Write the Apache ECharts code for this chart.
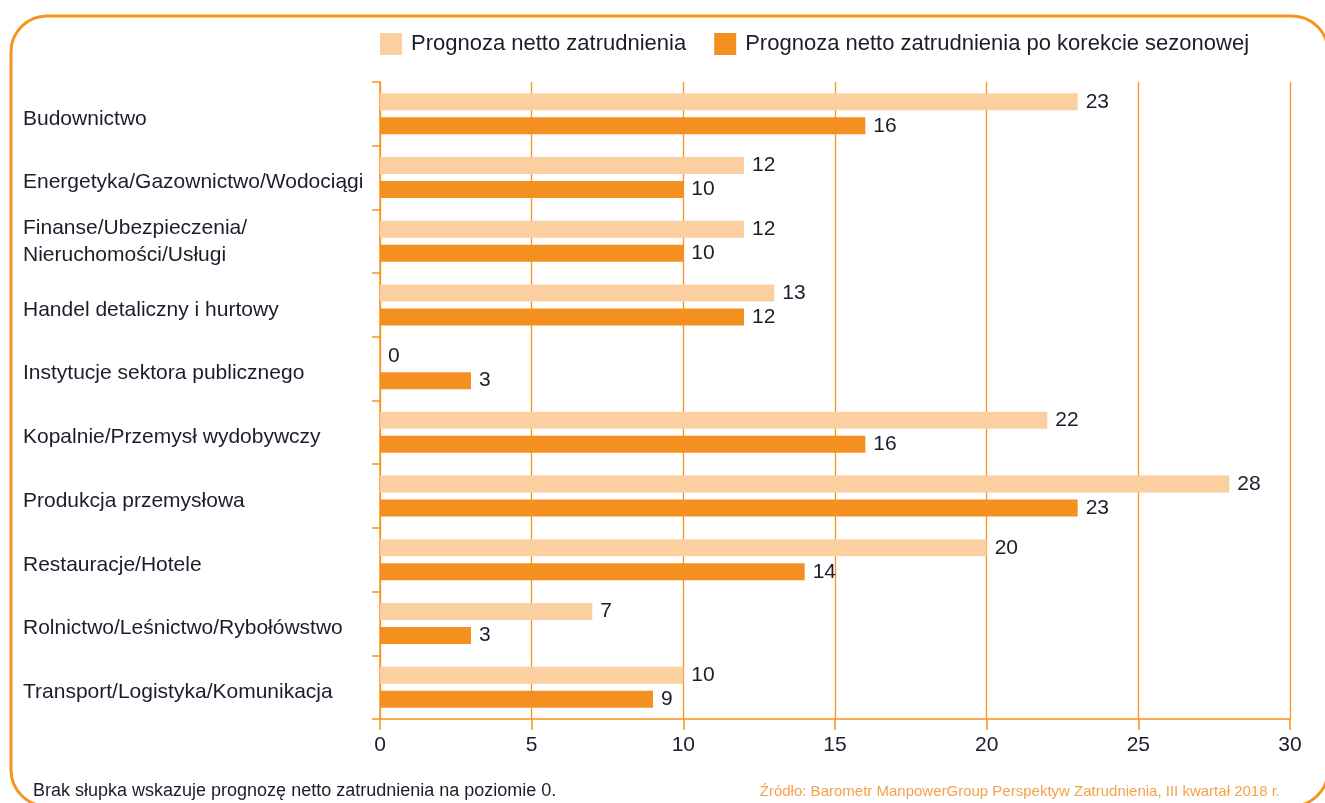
<!DOCTYPE html>
<html>
<head>
<meta charset="utf-8">
<script src="https://cdn.jsdelivr.net/npm/echarts@6/dist/echarts.min.js"></script>
<style>
html,body{margin:0;padding:0;background:#fff;}
#chart{width:1325px;height:803px;}
</style>
</head>
<body>
<div id="chart"></div>
<script>
const categories = [
  'Budownictwo',
  'Energetyka/Gazownictwo/Wodociągi',
  'Finanse/Ubezpieczenia/\nNieruchomości/Usługi',
  'Handel detaliczny i hurtowy',
  'Instytucje sektora publicznego',
  'Kopalnie/Przemysł wydobywczy',
  'Produkcja przemysłowa',
  'Restauracje/Hotele',
  'Rolnictwo/Leśnictwo/Rybołówstwo',
  'Transport/Logistyka/Komunikacja'
];
const netForecast = [23, 12, 12, 13, 0, 22, 28, 20, 7, 10];
const adjustedForecast = [16, 10, 10, 12, 3, 16, 23, 14, 3, 9];
const seriesNames = ['Prognoza netto zatrudnienia', 'Prognoza netto zatrudnienia po korekcie sezonowej'];
const footNote = 'Brak słupka wskazuje prognozę netto zatrudnienia na poziomie 0.';
const sourceNote = 'Źródło: Barometr ManpowerGroup Perspektyw Zatrudnienia, III kwartał 2018 r.';

const ORANGE = '#F7941D';
const LIGHT = '#FBCF9F';
const DARK = '#F39020';
const TEXT = '#1c1c2c';
const FONT = 'Liberation Sans, Arial, sans-serif';
const FS = 21;

const chart = echarts.init(document.getElementById('chart'), null, {renderer: 'canvas'});
const labelCfg = {show: true, position: 'right', distance: 8, fontSize: FS, color: TEXT, fontFamily: FONT};
chart.setOption({
  animation: false,
  textStyle: {fontFamily: FONT},
  grid: {left: 380, right: 35, top: 82, bottom: 84, containLabel: false},
  legend: {
    left: 375, top: 28, itemWidth: 22, itemHeight: 22, itemGap: 28,
    icon: 'rect',
    textStyle: {fontSize: 22, color: TEXT, fontFamily: FONT, padding: [0, 0, 0, 4]},
    data: seriesNames
  },
  xAxis: {
    type: 'value', min: 0, max: 30, interval: 5,
    axisLine: {show: true, lineStyle: {color: ORANGE, width: 1.5}},
    axisTick: {show: true, length: 11, lineStyle: {color: ORANGE, width: 1.5}},
    splitLine: {show: true, lineStyle: {color: ORANGE, width: 1.3}},
    axisLabel: {fontSize: FS, color: TEXT, margin: 16, fontFamily: FONT}
  },
  yAxis: {
    type: 'category', data: categories, inverse: true,
    axisLine: {show: true, lineStyle: {color: ORANGE, width: 1.5}},
    axisTick: {show: true, length: 8, lineStyle: {color: ORANGE, width: 1.5}},
    axisLabel: {
      fontSize: FS, color: TEXT, align: 'left', margin: 357, lineHeight: 27, fontFamily: FONT,
      formatter: v => v.indexOf('\n') >= 0 ? v : '{s|' + v + '}',
      rich: {s: {fontSize: FS, color: TEXT, fontFamily: FONT, padding: [10, 0, 0, 0]}}
    }
  },
  series: [
    {name: seriesNames[0], type: 'bar', data: netForecast, barWidth: 17, barGap: '41%', itemStyle: {color: LIGHT}, label: labelCfg},
    {name: seriesNames[1], type: 'bar', data: adjustedForecast, barWidth: 17, barGap: '41%', itemStyle: {color: DARK}, label: labelCfg}
  ],
  graphic: [
    {type: 'rect', silent: true, shape: {x: 11, y: 16, width: 1317, height: 790, r: 36}, style: {fill: 'none', stroke: ORANGE, lineWidth: 3}},
    {type: 'text', left: 33, top: 782, style: {text: footNote, fontSize: 18, fill: TEXT, fontFamily: FONT}},
    {type: 'text', right: 45, top: 784, style: {text: sourceNote, fontSize: 15, fill: '#F6A04A', fontFamily: FONT, textAlign: 'right'}}
  ]
});
</script>
</body>
</html>
